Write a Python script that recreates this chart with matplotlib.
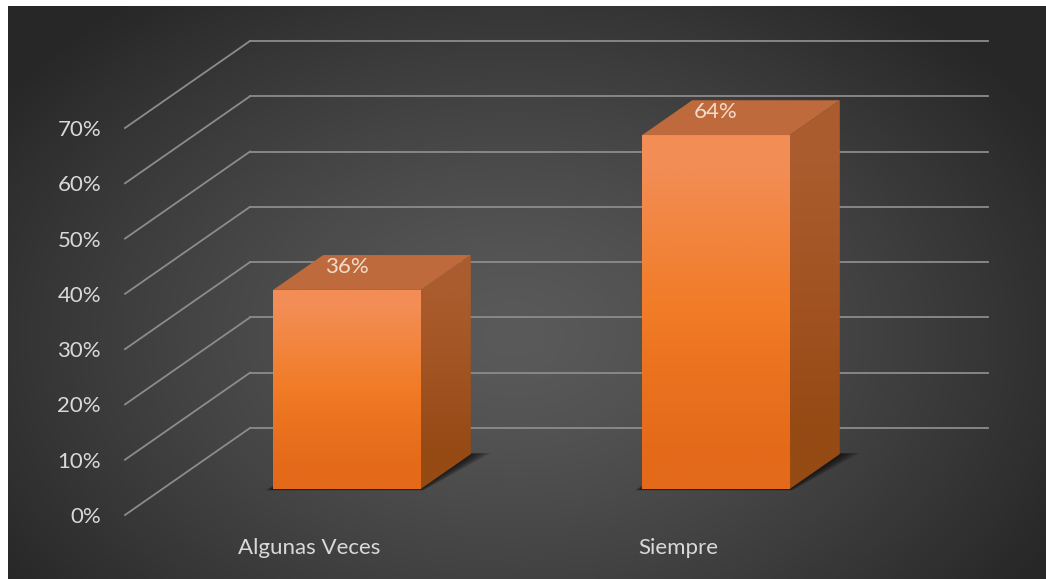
import matplotlib.pyplot as plt
import numpy as np
from matplotlib.patches import Polygon, Rectangle
from matplotlib.lines import Line2D
from matplotlib.transforms import ScaledTranslation, IdentityTransform

categories = ["Algunas Veces", "Siempre"]
values = [36, 64]
ticks = [0, 10, 20, 30, 40, 50, 60, 70]

W, H = 1046, 579
DEPTH = (-1.25, -0.87)      # shift (inches) from the back wall to the front edge
BAR_DEPTH = (0.3, 0.7)      # bars sit in the middle of the floor
BAR_HALF = 0.2
TEXT = "#d9d9d9"
GRID = "#8c8c8c"
FS = 16

plt.rcParams["font.family"] = ["Lato", "DejaVu Sans"]

fig = plt.figure(figsize=(W / 100, H / 100), dpi=100)
fig.patch.set_facecolor("white")

# dark panel with a soft radial glow
bg = fig.add_axes([8 / W, 0, 1 - 8 / W, 1 - 6 / H])
bg.set_axis_off()
yy, xx = np.mgrid[0:573, 0:1038]
r = np.sqrt(((xx - 505) / 620) ** 2 + ((yy - 330) / 430) ** 2)
r = np.clip(r, 0, 1) ** 1.3
inner = np.array([0x5a, 0x5a, 0x5a]) / 255
outer = np.array([0x27, 0x27, 0x27]) / 255
img = inner[None, None, :] * (1 - r[..., None]) + outer[None, None, :] * r[..., None]
bg.imshow(img, extent=[0, 1, 0, 1], aspect="auto", origin="upper")
bg.set_xlim(0, 1)
bg.set_ylim(0, 1)

# back wall of the plot
ax = fig.add_axes([250 / W, 1 - 428 / H, 738 / W, 387 / H])
ax.set_xlim(-0.5, len(categories) - 0.5)
ax.set_ylim(0, 70)
ax.set_autoscale_on(False)
ax.set_axis_off()
ax.patch.set_alpha(0)


def shift(d):
    return ax.transData + ScaledTranslation(DEPTH[0] * d, DEPTH[1] * d, fig.dpi_scale_trans)


def proj(x, y, d):
    return shift(d).transform((x, y))


def poly(pts, **kw):
    p = Polygon(np.array(pts), closed=True, transform=IdentityTransform(), clip_on=False, **kw)
    ax.add_patch(p)
    return p


# gridlines: along the back wall and down the left side
x0, x1 = ax.get_xlim()
for t in ticks:
    ax.plot([x0, x1], [t, t], color=GRID, lw=1.3, transform=shift(0), zorder=1, clip_on=False)
    a, b = proj(x0, t, 0), proj(x0, t, 1)
    ax.add_line(Line2D([a[0], b[0]], [a[1], b[1]], color=GRID, lw=1.3,
                       transform=IdentityTransform(), zorder=1, clip_on=False))
    ax.text(x0, t, f"{t}%", transform=shift(1) + ScaledTranslation(-0.24, -0.02, fig.dpi_scale_trans),
            ha="right", va="center", color=TEXT, fontsize=FS)

front_grad = np.array([[0xf2, 0x8d, 0x55], [0xf2, 0x84, 0x3c], [0xf1, 0x7b, 0x26],
                       [0xea, 0x71, 0x1e], [0xe4, 0x6a, 0x1a]]) / 255
side_grad = np.array([[0xab, 0x5c, 0x2e], [0xa2, 0x53, 0x22], [0x96, 0x4a, 0x14]]) / 255

d0, d1 = BAR_DEPTH
for i, (cat, v) in enumerate(zip(categories, values)):
    xl, xr = i - BAR_HALF, i + BAR_HALF

    # soft shadow on the floor
    for e in np.linspace(0.045, 0.008, 6):
        poly([proj(xl - e * 0.35, 0, d1 + e * 0.4), proj(xr + e * 0.3, 0, d1 + e * 0.4),
              proj(xr + e * 1.1, 0, d0 - e * 0.3), proj(xl, 0, d0)],
             facecolor="black", edgecolor="none", alpha=0.14, zorder=2)

    # front face with vertical gradient
    rect = Rectangle((xl, 0), xr - xl, v, transform=shift(d1), facecolor="none",
                     edgecolor="none", clip_on=False)
    ax.add_patch(rect)
    im = ax.imshow(front_grad[:, None, :], extent=(xl, xr, 0, v), aspect="auto",
                   origin="upper", transform=shift(d1), interpolation="bilinear", zorder=3)
    im.set_clip_path(rect)

    # right side face
    side_pts = [proj(xr, 0, d1), proj(xr, v, d1), proj(xr, v, d0), proj(xr, 0, d0)]
    side = poly(side_pts, facecolor="none", edgecolor="none", zorder=3)
    sp = np.array(side_pts)
    sim = ax.imshow(side_grad[:, None, :],
                    extent=(sp[:, 0].min(), sp[:, 0].max(), sp[:, 1].min(), sp[:, 1].max()),
                    aspect="auto", origin="upper", transform=IdentityTransform(),
                    interpolation="bilinear", zorder=3)
    sim.set_clip_path(side)
    sim.set_clip_box(fig.bbox)

    # top face
    poly([proj(xl, v, d1), proj(xr, v, d1), proj(xr, v, d0), proj(xl, v, d0)],
         facecolor="#bf6a3c", edgecolor="none", zorder=3)

    ax.text(i, v, f"{v}%", transform=shift(d1) + ScaledTranslation(0, 0.23, fig.dpi_scale_trans),
            ha="center", va="center", color="#f2dccb", fontsize=FS, zorder=4)

    ax.text(i, 0, cat, transform=shift(1) + ScaledTranslation(0, -0.33, fig.dpi_scale_trans),
            ha="center", va="center", color=TEXT, fontsize=FS)

fig.savefig("out.png", dpi=100, facecolor=fig.get_facecolor())
